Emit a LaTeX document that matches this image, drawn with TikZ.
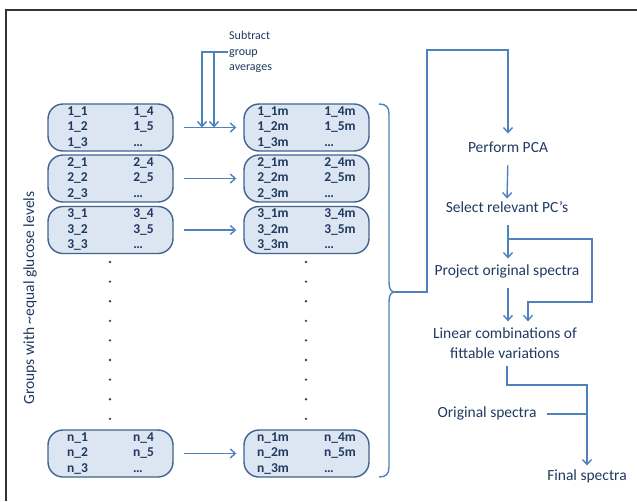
\documentclass[tikz,border=0pt]{standalone}
\usepackage{fontspec}
\setmainfont{Carlito}
\usepackage{xcolor}
\usetikzlibrary{positioning,arrows.meta,calc}
\definecolor{boxfill}{HTML}{DCE6F2}
\definecolor{boxline}{HTML}{41628E}
\definecolor{flowline}{HTML}{4F81BD}
\definecolor{navy}{HTML}{1F3A60}

\begin{document}
\begin{tikzpicture}[
  x=1pt,y=-1pt,
  font=\fontsize{15.5}{20}\selectfont,
  text=navy,
  grp/.style={draw=boxline,line width=1.4pt,fill=boxfill,rounded corners=15pt,
    minimum width=125pt,minimum height=47pt,inner sep=0pt,align=left,
    font=\bfseries\fontsize{13.5}{15.5}\selectfont},
  flow/.style={draw=flowline,line width=1.4pt,->},
  lbl/.style={inner sep=1pt,align=center,text height=11pt,text depth=3.5pt},
  >={Straight Barb[length=5pt,width=9pt]},
]
\useasboundingbox (0,0) rectangle (637,501);
% frame
\draw[black!80,line width=2pt] (6,501) -- (6,10) -- (637,10);

% groups and mean-centred groups
\foreach \i/\y in {1/127.5,2/178.5,3/230,n/453.5}{
  \node[grp] (g\i) at (110.5,\y) {\makebox[66pt][l]{\i\_1}\i\_4\\\makebox[66pt][l]{\i\_2}\i\_5\\\makebox[66pt][l]{\i\_3}…};
  \node[grp] (m\i) at (306.5,\y) {\makebox[67pt][l]{\i\_1m}\i\_4m\\\makebox[67pt][l]{\i\_2m}\i\_5m\\\makebox[67pt][l]{\i\_3m}…};
  \draw[flow,shorten <=10pt,shorten >=7pt] (g\i) -- (m\i);
}

% dots between group 3 and group n
\foreach \k in {0,...,8}{
  \fill[black!75] (110,262+19.6*\k) circle (1.3);
  \fill[black!75] (306,262+19.6*\k) circle (1.3);
}

\node[rotate=90,font=\fontsize{15.5}{18}\selectfont] (groups) at (30,298) {Groups with \textasciitilde equal glucose levels};

% subtract group averages
\node[lbl,align=left,anchor=west,text height=,text depth=,font=\fontsize{12}{15.5}\selectfont] (subtract) at (228,52) {Subtract\\group\\averages};
\coordinate (s1) at (202,127.5);
\coordinate (s2) at (214,127.5);
\coordinate (t2) at (214,52);
\draw[flow] (subtract.west) -| (s1);
\draw[flow] (t2) -- (s2);

% brace
\coordinate (tip) at (395,292);
\draw[flowline,line width=1.4pt] (379,104) .. controls (386,104) and (389,107) .. (389,114) -- (389,282)
  .. controls (389,289) and (391,292) .. (tip) .. controls (391,292) and (389,295) .. (389,302)
  -- (389,467) .. controls (389,474) and (386,477) .. (379,477);

% PCA flow
\node[lbl] (pca) at (508,149) {Perform PCA};
\node[lbl] (select) at (507,209) {Select relevant PC’s};
\node[lbl] (project) at (507,272) {Project original spectra};
\node[lbl,text height=,text depth=] (lincomb) at (505,343) {Linear combinations of\\fittable variations};
\node[lbl] (orig) at (487,414) {Original spectra};
\node[lbl] (final) at (587,477) {Final spectra};

\coordinate (b1) at (508,239);
\coordinate (b2) at (507,385);
\draw[flow] (tip) -- (427,292) -- (427,50) -| ([yshift=7pt]pca.north);
\draw[flow,shorten <=8pt] (pca.south) -- ([yshift=2pt]select.north);
\draw[flow,shorten <=8pt] (select.south -| b1) -- ([yshift=5pt]project.north -| b1);
\draw[flow] (b1) -- (592,239) -- (592,302) -| ([xshift=23pt,yshift=5pt]lincomb.north);
\draw[flow,shorten <=8pt] (project.south -| b1) -- ([yshift=5pt]lincomb.north -| b1);
\draw[flow,shorten <=6pt] (lincomb.south -| b2) -- (b2) -| ([yshift=3pt]final.north);
\draw[flowline,line width=1.4pt] ([xshift=9pt]orig.east) -- (587,414);
\end{tikzpicture}
\end{document}
